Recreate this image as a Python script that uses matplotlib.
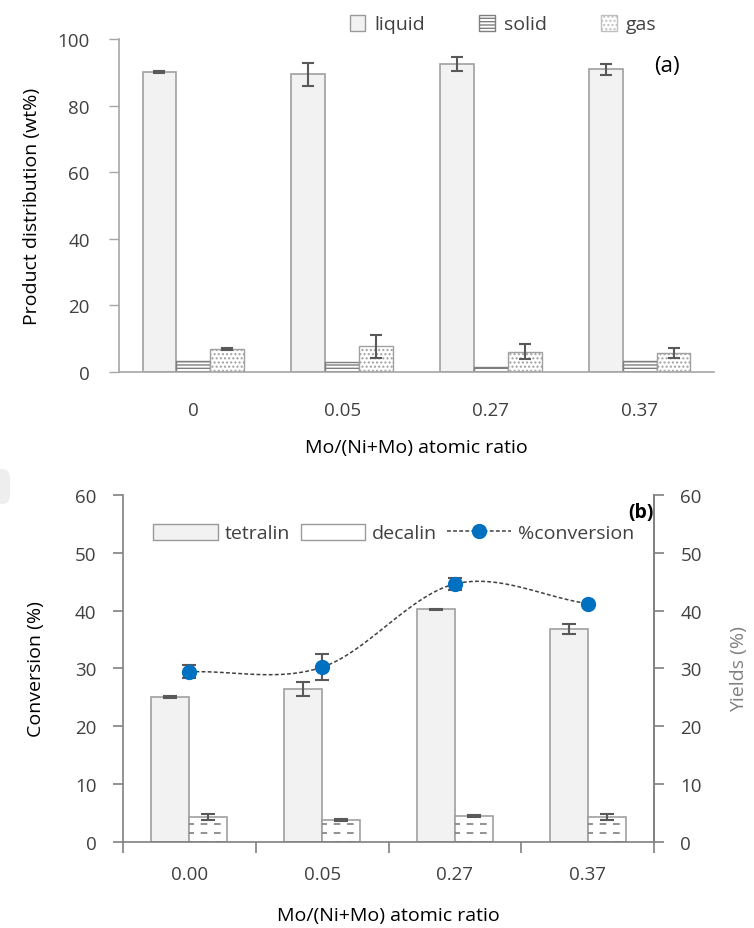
import numpy as np
import matplotlib
matplotlib.use("Agg")
import matplotlib.pyplot as plt
from matplotlib.lines import Line2D
from matplotlib.patches import Patch, FancyBboxPatch

plt.rcParams['font.family'] = ['Open Sans', 'DejaVu Sans']
plt.rcParams['hatch.color'] = '#7f7f7f'
plt.rcParams['hatch.linewidth'] = 1.0

# panel (a) data
ratios_a = ['0', '0.05', '0.27', '0.37']
liquid = [90.0, 89.4, 92.4, 90.9]
liquid_err = [0.3, 3.5, 2.1, 1.6]
solid = [3.1, 2.8, 1.3, 3.1]
gas = [6.7, 7.6, 6.0, 5.7]
gas_err = [0.3, 3.5, 2.2, 1.5]

# panel (b) data
ratios_b = ['0.00', '0.05', '0.27', '0.37']
tetralin = [25.1, 26.4, 40.2, 36.8]
tetralin_err = [0.15, 1.2, 0.1, 0.9]
decalin = [4.3, 3.75, 4.4, 4.3]
decalin_err = [0.55, 0.1, 0.15, 0.55]
conversion = [29.4, 30.2, 44.6, 41.2]
conversion_err = [1.15, 2.2, 1.0, 0.0]

bar_fc = '#f2f2f2'
bar_ec = '#a0a0a0'
err_c = '#595959'
txt_c = '#404040'
spine_a = '#a6a6a6'
spine_b = '#808080'
blue = '#0070c0'
tick_fs = 13.5
lab_fs = 14

W, H = 754, 929
fig = plt.figure(figsize=(W / 100, H / 100), dpi=100)

# ---------------- (a) ----------------
ax1 = fig.add_axes([119 / W, 1 - 372.7 / H, 595 / W, 332.7 / H])
x = np.arange(len(ratios_a))
w = 0.228
ekw = dict(ecolor=err_c, elinewidth=1.5, capsize=4.5, capthick=1.5)
ax1.bar(x - w, liquid, w, color=bar_fc, edgecolor=bar_ec, lw=1.2, yerr=liquid_err, error_kw=ekw, label='liquid')
ax1.bar(x, solid, w, color='white', edgecolor='#7f7f7f', lw=1.0, hatch='-----', label='solid')
ax1.bar(x + w, gas, w, color='white', edgecolor=bar_ec, lw=1.0, hatch='....', yerr=gas_err, error_kw=ekw, label='gas')

ax1.set_xlim(-0.5, 3.5)
ax1.set_ylim(0, 100)
ax1.set_yticks(range(0, 101, 20))
ax1.set_xticks(x)
ax1.set_xticklabels(ratios_a)
ax1.tick_params(axis='x', length=0, pad=21, labelsize=tick_fs, labelcolor=txt_c)
ax1.tick_params(axis='y', length=7, width=1, color=spine_a, labelsize=tick_fs, labelcolor=txt_c, pad=14)
for s in ['top', 'right']:
    ax1.spines[s].set_visible(False)
for s in ['left', 'bottom']:
    ax1.spines[s].set_color(spine_a)
    ax1.spines[s].set_linewidth(1.2)
ax1.set_ylabel('Product distribution (wt%)', fontsize=lab_fs, fontweight='medium', labelpad=12)
ax1.set_xlabel('Mo/(Ni+Mo) atomic ratio', fontsize=lab_fs, fontweight='medium', labelpad=14)
ax1.text(0.9, 0.92, '(a)', transform=ax1.transAxes, fontsize=16, color='black', ha='left', va='center')

leg_a = [Patch(facecolor=bar_fc, edgecolor='#999999', label='liquid'),
         Patch(facecolor='white', edgecolor='#7f7f7f', hatch='-----', label='solid'),
         Patch(facecolor='white', edgecolor='#bfbfbf', hatch='....', label='gas')]
fig.legend(handles=leg_a, loc='center', bbox_to_anchor=(503 / W, 1 - 25 / H), ncol=3, frameon=False,
           fontsize=lab_fs, handlelength=0.8, handleheight=0.9, handletextpad=0.45, columnspacing=2.8,
           labelcolor=txt_c)

# ---------------- (b) ----------------
ax2 = fig.add_axes([123 / W, 1 - 842.7 / H, 531 / W, 346.7 / H])
xb = np.arange(len(ratios_b))
wb = 0.286
ekw2 = dict(ecolor=err_c, elinewidth=1.5, capsize=5, capthick=1.5)
ax2.bar(xb - wb / 2, tetralin, wb, color=bar_fc, edgecolor=bar_ec, lw=1.2, yerr=tetralin_err, error_kw=ekw2, zorder=2)
dbars = ax2.bar(xb + wb / 2, decalin, wb, color='white', edgecolor=bar_ec, lw=1.2, yerr=decalin_err, error_kw=ekw2, zorder=2)

# dashed hatch lines inside decalin bars
for p in dbars.patches:
    x0, x1 = p.get_x(), p.get_x() + p.get_width()
    for yy in np.arange(0.0, p.get_height(), 1.5):
        ln = ax2.hlines(yy, x0, x1, colors='#7f7f7f', lw=1.2, linestyles=(1, (4, 4)), zorder=2.5)
        ln.set_clip_path(p)

# smooth curve through conversion points (Catmull-Rom)
px = np.array(xb, float)
py = np.array(conversion, float)
cx, cy = [], []
for i in range(len(px) - 1):
    p0 = (px[i - 1] if i > 0 else 2 * px[0] - px[1], py[i - 1] if i > 0 else 2 * py[0] - py[1])
    p1 = (px[i], py[i])
    p2 = (px[i + 1], py[i + 1])
    p3 = (px[i + 2], py[i + 2]) if i + 2 < len(px) else (2 * px[-1] - px[-2], 2 * py[-1] - py[-2])
    t = np.linspace(0, 1, 40)
    for k, arr in ((0, cx), (1, cy)):
        a0, a1, a2, a3 = p0[k], p1[k], p2[k], p3[k]
        arr.extend(0.5 * (2 * a1 + (-a0 + a2) * t + (2 * a0 - 5 * a1 + 4 * a2 - a3) * t ** 2
                          + (-a0 + 3 * a1 - 3 * a2 + a3) * t ** 3))
ax2.plot(cx, cy, color='#404040', lw=1.1, ls=(0, (2.5, 1.5)), zorder=3)
ax2.errorbar(xb, conversion, yerr=conversion_err, fmt='none', ecolor=err_c, elinewidth=1.5,
             capsize=5, capthick=1.5, zorder=4)
ax2.plot(xb, conversion, 'o', color=blue, ms=10, zorder=5)

ax2.set_xlim(-0.5, 3.5)
ax2.set_ylim(0, 60)
ax2.set_yticks(range(0, 61, 10))
ax2.set_xticks(np.arange(-0.5, 3.6, 1))
ax2.set_xticklabels([])
ax2.set_xticks(xb, minor=True)
ax2.set_xticklabels(ratios_b, minor=True)
ax2.tick_params(axis='x', which='major', length=8, width=1.2, color=spine_b, direction='out')
ax2.tick_params(axis='x', which='minor', length=0, pad=17, labelsize=tick_fs, labelcolor=txt_c)
ax2.tick_params(axis='y', length=7, width=1.2, color=spine_b, labelsize=tick_fs, labelcolor=txt_c, pad=12)
ax2.spines['top'].set_visible(False)
for s in ['left', 'bottom', 'right']:
    ax2.spines[s].set_color(spine_b)
    ax2.spines[s].set_linewidth(1.2)
ax2.set_ylabel('Conversion (%)', fontsize=lab_fs, fontweight='medium', labelpad=22)
ax2.set_xlabel('Mo/(Ni+Mo) atomic ratio', fontsize=lab_fs, fontweight='medium', labelpad=16)

ax3 = ax2.twinx()
ax3.set_ylim(0, 60)
ax3.set_yticks(range(0, 61, 10))
ax3.tick_params(axis='y', length=7, width=1.2, color=spine_b, labelsize=tick_fs, labelcolor=txt_c, pad=12)
ax3.spines['top'].set_visible(False)
ax3.spines['right'].set_color(spine_b)
ax3.spines['right'].set_linewidth(1.2)
ax3.spines['left'].set_visible(False)
ax3.spines['bottom'].set_visible(False)
ax3.set_ylabel('Yields (%)', fontsize=lab_fs, color='#808080', labelpad=20)

ax2.text(1.0, 0.95, '(b)', transform=ax2.transAxes, fontsize=14, fontweight='bold', ha='right', va='center')

leg_b = [Patch(facecolor=bar_fc, edgecolor='#999999', label='tetralin'),
         Patch(facecolor='white', edgecolor='#999999', label='decalin'),
         Line2D([], [], color='#404040', lw=1.1, ls=(0, (2.5, 1.5)), marker='o', ms=10,
                mfc=blue, mec=blue, label='%conversion')]
ax2.legend(handles=leg_b, loc='center', bbox_to_anchor=(394 / W, 1 - 534 / H), bbox_transform=fig.transFigure,
           ncol=3, frameon=False, fontsize=lab_fs, handlelength=3.3, handleheight=0.9, handletextpad=0.35,
           columnspacing=0.55, labelcolor=txt_c)

# faint screenshot artefact at the left edge
fig.patches.append(FancyBboxPatch((-10 / W, 1 - 505 / H), 20 / W, 35 / H, boxstyle='round,pad=0,rounding_size=0.01',
                                  transform=fig.transFigure, facecolor='#eeeeee', edgecolor='none', figure=fig))

fig.savefig('out.png', dpi=100)
